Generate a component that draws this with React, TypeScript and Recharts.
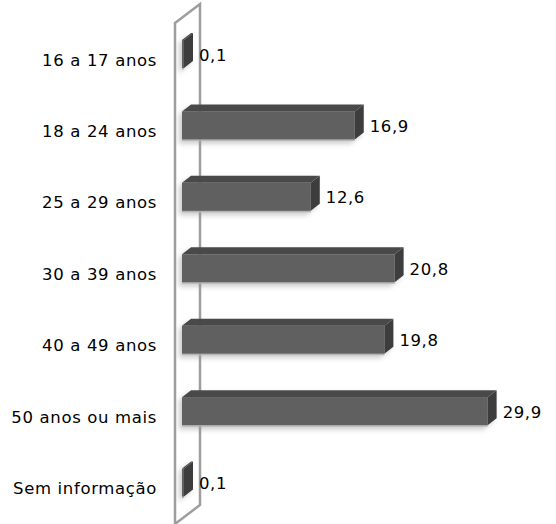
import { BarChart, Bar, XAxis, YAxis, LabelList, ReferenceArea } from "recharts";

const categories = [
    "16 a 17 anos",
    "18 a 24 anos",
    "25 a 29 anos",
    "30 a 39 anos",
    "40 a 49 anos",
    "50 anos ou mais",
    "Sem informação",
];
const values = [0.1, 16.9, 12.6, 20.8, 19.8, 29.9, 0.1];

const data = categories.map((name, i) => ({ name, value: values[i] }));

const FONT = "'DejaVu Sans', Verdana, sans-serif";
// 3D depth of bars and wall
const DX = 9;
const DY = 7;
const LIFT = 6;

function Bar3D(props: any) {
    const { x, y, width, height } = props;
    const w = Math.max(width, 2);
    const top = y - LIFT;
    const h = height;
    return (
        <g filter="url(#barGlow)">
            <rect x={x} y={top + h} width={w} height={1.5} fill="#b4b4b4" />
            <rect x={x} y={top} width={w} height={h} fill="#616161" />
            <polygon
                points={`${x},${top} ${x + DX},${top - DY} ${x + w + DX},${top - DY} ${x + w},${top}`}
                fill="#4a4a4a"
            />
            <polygon
                points={`${x + w},${top} ${x + w + DX},${top - DY} ${x + w + DX},${top + h - DY} ${x + w},${top + h}`}
                fill="#3e3e3e"
            />
        </g>
    );
}

function Wall(props: any) {
    const { x, y, height } = props;
    const left = x - 7;
    const right = x + 18;
    const t = y - 1;
    const b = y + height;
    return (
        <g>
            <defs>
                <filter id="barGlow" x="-50%" y="-50%" width="200%" height="200%">
                    <feDropShadow dx={-3} dy={3} stdDeviation={2.5} floodColor="#909090" floodOpacity={0.45} />
                </filter>
            </defs>
            <polygon
                points={`${left},${t} ${right},${t - 19} ${right},${b - 19} ${left},${b}`}
                fill="#ffffff"
                stroke="#9e9e9e"
                strokeWidth={2.5}
            />
        </g>
    );
}

function ValueLabel(props: any) {
    const { x, y, width, height, value } = props;
    const w = Math.max(width, 2);
    return (
        <text
            x={x + w + DX + 6}
            y={y + height / 2 - 5}
            dominantBaseline="central"
            fontFamily={FONT}
            fontSize={16.5}
            letterSpacing={0.6}
            fill="#000"
        >
            {String(value).replace(".", ",")}
        </text>
    );
}

export default function App() {
    return (
        <div style={{ position: "absolute", left: 0, top: 0, width: 556, height: 524, background: "#fff" }}>
            <BarChart
                width={556}
                height={524}
                data={data}
                layout="vertical"
                margin={{ top: 24, right: 6, left: 0, bottom: 0 }}
                barSize={28}
            >
                <XAxis type="number" domain={[0, 36]} hide />
                <YAxis
                    type="category"
                    dataKey="name"
                    width={182}
                    axisLine={false}
                    tickLine={false}
                    tickSize={0}
                    tickMargin={25}
                    tick={{ fill: "#000", fontSize: 16.5, fontFamily: FONT, letterSpacing: 0.65 }}
                />
                <ReferenceArea x1={0} x2={0.001} shape={<Wall />} ifOverflow="visible" />
                <Bar dataKey="value" shape={<Bar3D />} isAnimationActive={false}>
                    <LabelList dataKey="value" content={<ValueLabel />} />
                </Bar>
            </BarChart>
        </div>
    );
}
